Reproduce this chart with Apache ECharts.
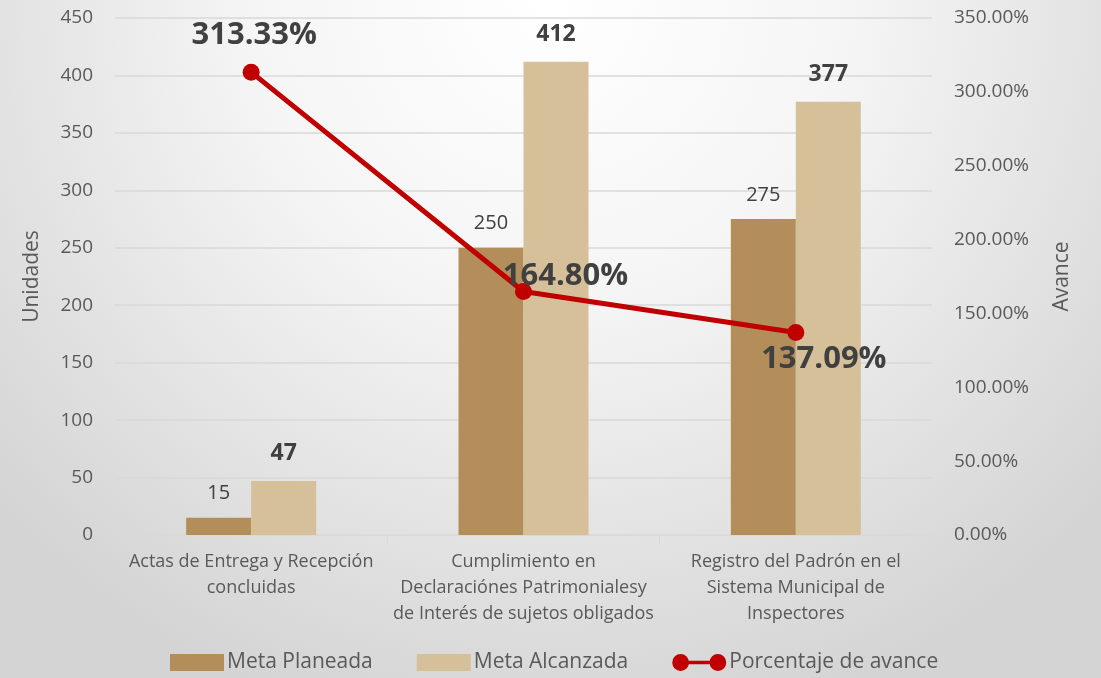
<!DOCTYPE html>
<html>
<head>
<meta charset="utf-8">
<script src="https://cdn.jsdelivr.net/npm/echarts@6/dist/echarts.min.js"></script>
<style>
  html, body { margin: 0; padding: 0; }
  #chart { width: 1101px; height: 678px; }
</style>
</head>
<body>
<div id="chart"></div>
<script>
var categories = [
  'Actas de Entrega y Recepción\nconcluidas',
  'Cumplimiento en\nDeclaraciónes Patrimonialesy\nde Interés de sujetos obligados',
  'Registro del Padrón en el\nSistema Municipal de\nInspectores'
];
var metaPlaneada = [15, 250, 275];
var metaAlcanzada = [47, 412, 377];
var porcentajeAvance = [313.33, 164.80, 137.09];

var narrow = '"Liberation Sans Narrow", "Open Sans", sans-serif';
var tickFont = '"Open Sans", "Noto Sans", sans-serif';

// posiciones de etiquetas de porcentaje, como en la imagen
var pctLabelOffsets = [[3, 9], [42, -15], [28, 27]];
var pctLabelPos = ['top', 'inside', 'inside'];

var chart = echarts.init(document.getElementById('chart'));
var option = {
  backgroundColor: new echarts.graphic.RadialGradient(0.5, 0.0, 1.1, [
    { offset: 0, color: '#ffffff' },
    { offset: 0.4, color: '#f5f5f5' },
    { offset: 1, color: '#d4d4d4' }
  ]),
  grid: { left: 115, right: 169, top: 18, bottom: 143 },
  legend: {
    bottom: 0,
    left: 165,
    itemGap: 44,
    textStyle: { fontFamily: narrow, fontSize: 21, color: '#595959', padding: [0, 0, 0, -2] },
    data: [
      { name: 'Meta Planeada', icon: 'rect' },
      { name: 'Meta Alcanzada', icon: 'rect' },
      { name: 'Porcentaje de avance',
        icon: 'path://M0,9 A9,9 0 1,1 18,9 A9,9 0 1,1 0,9 Z M14,7.2 H44 V10.8 H14 Z M40,9 A9,9 0 1,1 58,9 A9,9 0 1,1 40,9 Z' }
    ],
    itemWidth: 54,
    itemHeight: 17
  },
  xAxis: {
    type: 'category',
    data: categories,
    axisLine: { lineStyle: { color: '#d9d9d9' } },
    axisTick: { show: true, length: 10, lineStyle: { color: '#d9d9d9' } },
    axisLabel: { interval: 0, fontFamily: narrow, fontSize: 18, color: '#595959', lineHeight: 26, margin: 14 }
  },
  yAxis: [
    {
      type: 'value',
      min: 0, max: 450, interval: 50,
      name: 'Unidades',
      nameLocation: 'middle',
      nameGap: 72,
      nameTextStyle: { fontFamily: tickFont, fontSize: 21, color: '#595959' },
      axisLine: { show: false },
      axisTick: { show: false },
      splitLine: { lineStyle: { color: '#d9d9d9', width: 1.5 } },
      axisLabel: { fontFamily: tickFont, fontSize: 19, color: '#595959', margin: 22 }
    },
    {
      type: 'value',
      min: 0, max: 350, interval: 50,
      name: 'Avance',
      nameLocation: 'middle',
      nameGap: 120,
      nameRotate: 90,
      nameTextStyle: { fontFamily: tickFont, fontSize: 21, color: '#595959' },
      axisLine: { show: false },
      axisTick: { show: false },
      splitLine: { show: false },
      axisLabel: {
        fontFamily: tickFont, fontSize: 19, color: '#595959', margin: 22,
        formatter: function (v) { return v.toFixed(2) + '%'; }
      }
    }
  ],
  series: [
    {
      name: 'Meta Planeada',
      type: 'bar',
      data: metaPlaneada,
      barWidth: 65,
      barGap: '0%',
      itemStyle: { color: '#b38d5a' },
      label: { show: true, position: 'top', distance: 14, fontFamily: tickFont, fontSize: 20, color: '#404040' }
    },
    {
      name: 'Meta Alcanzada',
      type: 'bar',
      data: metaAlcanzada,
      barWidth: 65,
      barGap: '0%',
      itemStyle: { color: '#d6c09a' },
      label: { show: true, position: 'top', distance: 16, fontFamily: tickFont, fontWeight: 'bold', fontSize: 23, color: '#404040' }
    },
    {
      name: 'Porcentaje de avance',
      type: 'line',
      yAxisIndex: 1,
      data: porcentajeAvance.map(function (v, i) {
        return {
          value: v,
          label: { position: pctLabelPos[i], offset: pctLabelOffsets[i] }
        };
      }),
      symbol: 'circle',
      symbolSize: 17,
      lineStyle: { color: '#c00000', width: 5 },
      itemStyle: { color: '#c00000' },
      z: 5,
      label: {
        show: true,
        distance: 22,
        fontFamily: tickFont,
        fontWeight: 'bold',
        fontSize: 31,
        color: '#404040',
        formatter: function (p) { return p.value.toFixed(2) + '%'; }
      }
    }
  ]
};
chart.setOption(option);
</script>
</body>
</html>
